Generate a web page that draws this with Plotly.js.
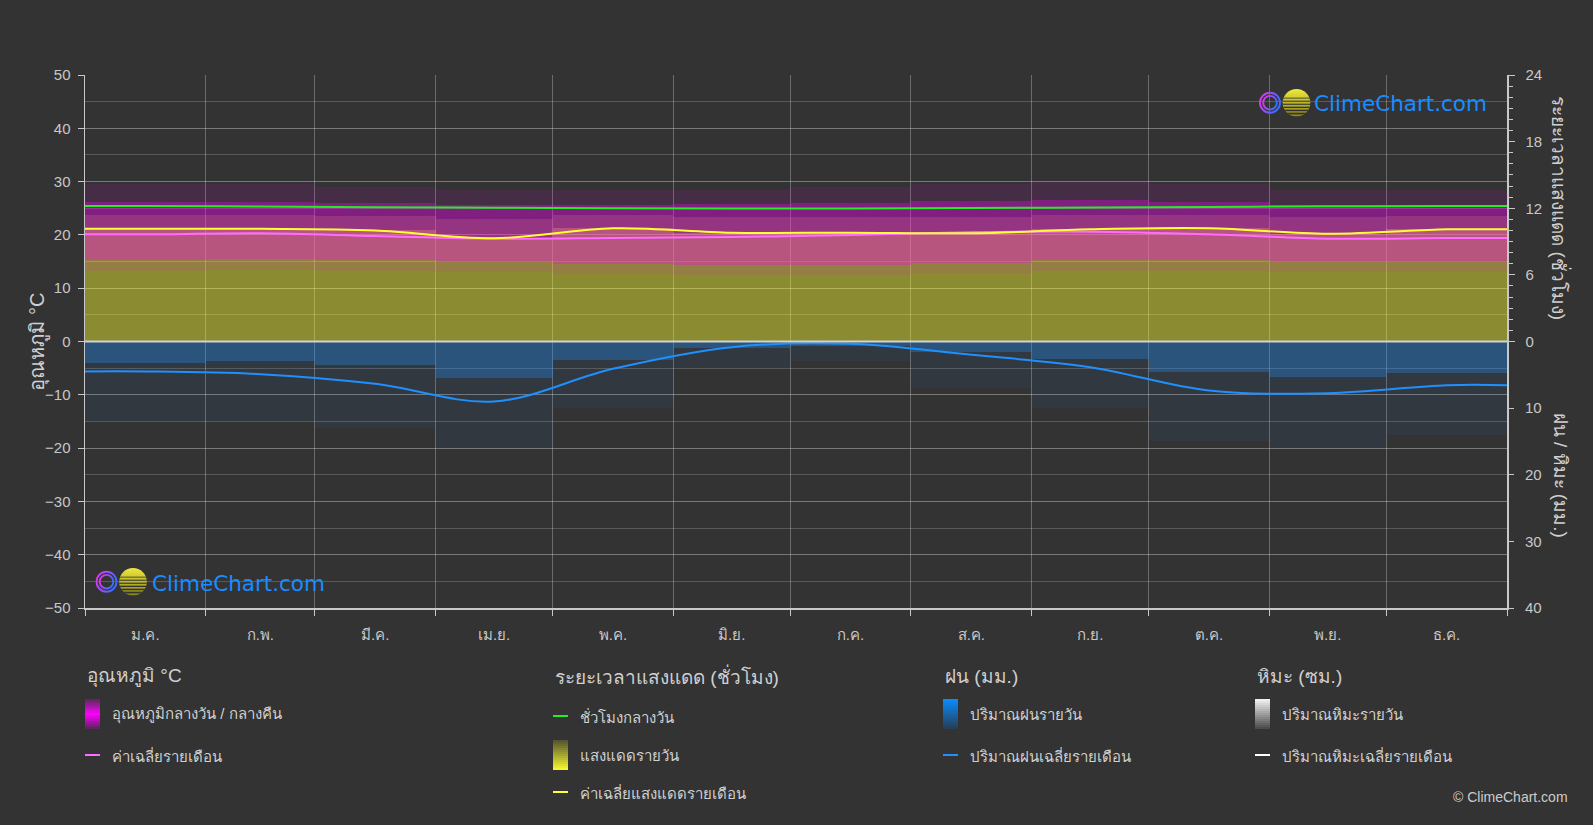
<!DOCTYPE html>
<html><head><meta charset="utf-8">
<script src="https://cdn.plot.ly/plotly-3.0.1.min.js"></script>
<style>html,body{margin:0;padding:0;background:#333333;}#chart{width:1593px;height:825px;}</style>
</head><body><div id="chart"></div>
<script>
// ---------------- data ----------------
const monthLabels = ["ม.ค.","ก.พ.","มี.ค.","เม.ย.","พ.ค.","มิ.ย.","ก.ค.","ส.ค.","ก.ย.","ต.ค.","พ.ย.","ธ.ค."];
const monthDays   = [31,28,31,30,31,30,31,31,30,31,30,31];

// temperature, °C
const tempMean    = [20.1,20.3,19.8,19.3,19.4,19.6,20.0,20.5,20.6,20.1,19.3,19.4];
const tempHigh    = [26.2,26.2,26.0,25.6,25.6,25.8,26.0,26.4,26.6,26.2,25.6,25.6];
const tempLow     = [15.2,15.4,15.2,15.0,14.6,14.4,14.4,14.8,15.2,15.2,15.0,15.0];
const tempHighExt = [29.5,29.5,29.0,28.5,28.5,28.5,29.0,29.5,30.0,29.5,28.5,28.5];
const tempLowExt  = [13.2,13.4,13.2,13.0,12.6,12.4,12.4,12.8,13.2,13.2,13.0,13.0];

// sunshine / daylight, hours
const daylightHours = [12.2,12.15,12.1,12.05,12.0,11.97,11.98,12.02,12.07,12.12,12.17,12.2];
const sunshineHours = [10.15,10.15,10.0,9.3,10.2,9.8,9.8,9.75,10.1,10.2,9.7,10.1];
const sunshineHigh  = [11.4,11.4,11.3,11.0,11.4,11.2,11.2,11.2,11.4,11.4,11.2,11.3];

// precipitation, mm
const precipMean    = [4.5,4.9,6.35,9.0,4.1,0.85,0.35,2.0,3.85,7.35,7.75,6.55];
const precipTypical = [3.2,3.0,3.6,5.5,2.8,1.0,0.6,1.6,2.6,4.6,5.4,4.8];
const precipHeavy   = [12,12,13,16,10,4,3,7,10,15,16,14];

// axis ticks
const tempTicks   = [-50,-40,-30,-20,-10,0,10,20,30,40,50];
const sunTicks    = [0,6,12,18,24];
const precipTicks = [10,20,30,40];

// ---------------- derived positions ----------------
const monthStarts = [0];
monthDays.forEach(d => monthStarts.push(monthStarts[monthStarts.length-1] + d));
const monthCenters = monthDays.map((d,i) => monthStarts[i] + d/2);
const yearEnd = monthStarts[12];
const lineX = [0, ...monthCenters, yearEnd];
const ext = arr => [arr[0], ...arr, arr[arr.length-1]];
const diff = (a,b) => a.map((v,i) => v - b[i]);
const sunMinor = [];
for (let h = 1; h < 24; h++) if (h % 6) sunMinor.push(h);

// ---------------- traces ----------------
// y: temperature axis (left), y2: sunshine (right), y3: precipitation (right)
// y4: temperature overlay (bars above sunshine), y5: temperature lines, y6: sunshine lines
const barBase = {type:'bar', x: monthCenters, width: monthDays, hoverinfo:'skip', showlegend:false};
const traces = [
  Object.assign({}, barBase, {y: sunshineHigh, base: 0, yaxis:'y2',
    marker:{color:'rgba(255,255,50,0.17)', line:{width:0}}}),
  Object.assign({}, barBase, {y: sunshineHours, base: 0, yaxis:'y2',
    marker:{color:'rgba(255,255,50,0.32)', line:{width:0}}}),
  Object.assign({}, barBase, {y: precipHeavy, base: 0, yaxis:'y3',
    marker:{color:'rgba(30,144,255,0.06)', line:{width:0}}}),
  Object.assign({}, barBase, {y: precipTypical, base: 0, yaxis:'y3',
    marker:{color:'rgba(30,144,255,0.32)', line:{width:0}}}),
  {type:'scatter', mode:'lines', x: lineX, y: ext(precipMean), yaxis:'y3', hoverinfo:'skip', showlegend:false,
    line:{color:'#1e90ff', width:2, shape:'spline', smoothing:1}},
  Object.assign({}, barBase, {y: diff(tempHighExt,tempLowExt), base: tempLowExt, yaxis:'y4',
    marker:{color:'rgba(255,0,255,0.09)', line:{width:0}}}),
  Object.assign({}, barBase, {y: diff(tempHigh,tempLow), base: tempLow, yaxis:'y4',
    marker:{color:'rgba(255,0,255,0.32)', line:{width:0}}}),
  {type:'scatter', mode:'lines', x: lineX, y: ext(tempMean), yaxis:'y5', hoverinfo:'skip', showlegend:false,
    line:{color:'#ff6cff', width:2, shape:'spline', smoothing:1}},
  {type:'scatter', mode:'lines', x: lineX, y: ext(daylightHours), yaxis:'y6', hoverinfo:'skip', showlegend:false,
    line:{color:'#22ee22', width:2, shape:'spline', smoothing:1}},
  {type:'scatter', mode:'lines', x: lineX, y: ext(sunshineHours), yaxis:'y6', hoverinfo:'skip', showlegend:false,
    line:{color:'#ffff33', width:2, shape:'spline', smoothing:1}}
];

// ---------------- layout helpers ----------------
const W = 1593, H = 825, ML = 85, MR = 86, MT = 75, MB = 217;
const PW = W - ML - MR, PH = H - MT - MB;
const px = x => (x - ML) / PW;
const py = y => (H - MB - y) / PH;
const FONT = '"Liberation Sans", Arial, sans-serif';
const txt = '#d0d0d0';

const shapes = [
  {type:'line', xref:'paper', x0:0, x1:1, yref:'y', y0:0, y1:0, layer:'above',
   line:{color:'#d2d2d2', width:2}}
];
const annotations = [];

function gradBox(x, yTop, w, h, colorAt) {
  const n = 15;
  for (let i = 0; i < n; i++) {
    const t = (i + 0.5) / n;
    shapes.push({type:'rect', xref:'paper', yref:'paper',
      x0: px(x), x1: px(x + w), y0: py(yTop + h*i/n), y1: py(yTop + h*(i+1)/n),
      fillcolor: colorAt(t), line:{width:0}});
  }
}
function legLine(x, y, color) {
  shapes.push({type:'line', xref:'paper', yref:'paper', x0: px(x), x1: px(x+15), y0: py(y), y1: py(y),
    line:{color: color, width:2}});
}
function label(x, y, text, size, anchor) {
  annotations.push({xref:'paper', yref:'paper', x: px(x), y: py(y), text: text, showarrow:false,
    xanchor: anchor || 'left', yanchor:'middle', font:{family: FONT, size: size || 15, color: txt}});
}
const mix = (a, b, t) => 'rgb(' + a.map((v,i) => Math.round(v + (b[i]-v)*t)).join(',') + ')';

// legend headers
label(85, 676, 'อุณหภูมิ °C', 19);
label(553, 676, 'ระยะเวลาแสงแดด (ชั่วโมง)', 19);
label(943, 676, 'ฝน (มม.)', 19);
label(1255, 676, 'หิมะ (ซม.)', 19);

// column 1
gradBox(85, 699, 15, 30, t => t < 0.5 ? mix([90,40,90],[255,0,255], t*2) : mix([255,0,255],[80,40,80], (t-0.5)*2));
label(110, 714, 'อุณหภูมิกลางวัน / กลางคืน', 15);
legLine(85, 755, '#ff6cff');
label(110, 755, 'ค่าเฉลี่ยรายเดือน', 15);
// column 2
legLine(553, 716, '#22ee22');
label(578, 716, 'ชั่วโมงกลางวัน', 15);
gradBox(553, 740, 15, 30, t => mix([80,80,50],[250,250,50], t));
label(578, 755, 'แสงแดดรายวัน', 15);
legLine(553, 792, '#ffff33');
label(578, 792, 'ค่าเฉลี่ยแสงแดดรายเดือน', 15);
// column 3
gradBox(943, 699, 15, 30, t => mix([10,140,255],[40,60,80], t));
label(968, 714, 'ปริมาณฝนรายวัน', 15);
legLine(943, 755, '#1e90ff');
label(968, 755, 'ปริมาณฝนเฉลี่ยรายเดือน', 15);
// column 4
gradBox(1255, 699, 15, 30, t => mix([245,245,245],[70,70,70], t));
label(1280, 714, 'ปริมาณหิมะรายวัน', 15);
legLine(1255, 755, '#ffffff');
label(1280, 755, 'ปริมาณหิมะเฉลี่ยรายเดือน', 15);

// axis titles
annotations.push({xref:'paper', yref:'paper', x: px(37), y: 0.5, text:'อุณหภูมิ °C', textangle:-90, showarrow:false,
  xanchor:'center', yanchor:'middle', font:{family:FONT, size:20, color:txt}});
annotations.push({xref:'paper', yref:'paper', x: px(1560), y: 0.75, text:'ระยะเวลาแสงแดด (ชั่วโมง)', textangle:90, showarrow:false,
  xanchor:'center', yanchor:'middle', font:{family:FONT, size:19, color:txt}});
annotations.push({xref:'paper', yref:'paper', x: px(1560), y: 0.25, text:'ฝน / หิมะ (มม.)', textangle:90, showarrow:false,
  xanchor:'center', yanchor:'middle', font:{family:FONT, size:19, color:txt}});

// copyright
annotations.push({xref:'paper', yref:'paper', x: px(1570), y: py(797), text:'© ClimeChart.com', showarrow:false,
  xanchor:'right', yanchor:'middle', font:{family:FONT, size:14, color:'#cccccc'}});

// logos
const logoSvg = "<svg xmlns='http://www.w3.org/2000/svg' width='52' height='28' viewBox='0 0 52 28'>" +
  "<defs><linearGradient id='r' x1='0' y1='0' x2='1' y2='0.4'><stop offset='0' stop-color='#f030f0'/><stop offset='1' stop-color='#3a6cff'/></linearGradient>" +
  "<linearGradient id='s' x1='0' y1='0' x2='0' y2='1'><stop offset='0' stop-color='#f0ea40'/><stop offset='1' stop-color='#8a8412'/></linearGradient>" +
  "<clipPath id='c'><circle cx='37.5' cy='14' r='13.8'/></clipPath></defs>" +
  "<circle cx='11' cy='14' r='10' fill='none' stroke='url(#r)' stroke-width='1.9'/>" +
  "<circle cx='11' cy='14' r='6.8' fill='none' stroke='url(#r)' stroke-width='1.9'/>" +
  "<g clip-path='url(#c)'><rect x='23' y='0' width='30' height='28' fill='url(#s)'/>" +
  "<g fill='#333333'><rect x='23' y='9' width='30' height='0.8'/><rect x='23' y='12' width='30' height='1'/><rect x='23' y='15' width='30' height='1.1'/>" +
  "<rect x='23' y='18' width='30' height='1.3'/><rect x='23' y='21' width='30' height='1.5'/><rect x='23' y='24' width='30' height='1.7'/></g></g></svg>";
const logoSrc = 'data:image/svg+xml;charset=utf-8,' + encodeURIComponent(logoSvg);
const images = [
  {source: logoSrc, xref:'paper', yref:'paper', x: px(1259), y: py(88.7), sizex: 52/PW, sizey: 28/PH,
   xanchor:'left', yanchor:'top', sizing:'stretch', layer:'above'},
  {source: logoSrc, xref:'paper', yref:'paper', x: px(95.5), y: py(567.7), sizex: 52/PW, sizey: 28/PH,
   xanchor:'left', yanchor:'top', sizing:'stretch', layer:'above'}
];
const logoFont = {family:'"DejaVu Sans", sans-serif', size:21.5, color:'#1a8cff'};
annotations.push({xref:'paper', yref:'paper', x: px(1312), y: py(104), text:'ClimeChart.com', showarrow:false,
  xanchor:'left', yanchor:'middle', font: logoFont});
annotations.push({xref:'paper', yref:'paper', x: px(150), y: py(583), text:'ClimeChart.com', showarrow:false,
  xanchor:'left', yanchor:'middle', font: logoFont});

// ---------------- layout ----------------
const tickFont = {family: FONT, size: 15, color: '#c8c8c8'};
const gridC = 'rgba(255,255,255,0.19)';
const hidden = {overlaying:'y', visible:false, fixedrange:true};
const layout = {
  width: W, height: H,
  margin: {l: ML, r: MR, t: MT, b: MB, pad: 0},
  paper_bgcolor: '#333333', plot_bgcolor: '#333333',
  barmode: 'overlay', bargap: 0,
  showlegend: false,
  font: {family: FONT, color: txt},
  xaxis: {range: [0, yearEnd], tickmode:'array', tickvals: monthCenters, ticktext: monthLabels,
    ticks:'', showgrid:false, zeroline:false, showline:true, linecolor:'#c8c8c8', linewidth:2,
    tickfont: tickFont, ticklabelstandoff: 12, fixedrange:true,
    minor: {tickmode:'array', tickvals: monthStarts, showgrid:true, gridcolor:'rgba(255,255,255,0.28)', gridwidth:1,
      ticks:'outside', ticklen:6, tickcolor:'#c8c8c8', tickwidth:1}},
  yaxis: {range: [-50, 50], tickmode:'array', tickvals: tempTicks, showgrid:true, gridcolor: gridC, gridwidth:1,
    zeroline:false, showline:true, linecolor:'#c8c8c8', linewidth:1.5, ticks:'outside', ticklen:6, tickcolor:'#c8c8c8',
    tickfont: tickFont, ticklabelstandoff: 4, fixedrange:true,
    minor: {dtick:5, tick0:0, showgrid:true, gridcolor: gridC, gridwidth:1, ticks:''}},
  yaxis2: {overlaying:'y', side:'right', range:[-24, 24], tickmode:'array', tickvals: sunTicks,
    showgrid:false, zeroline:false, showline:true, linecolor:'#c8c8c8', linewidth:1.5,
    ticks:'outside', ticklen:6, tickcolor:'#c8c8c8', tickfont: tickFont, ticklabelstandoff: 8, fixedrange:true,
    minor: {tickmode:'array', tickvals: sunMinor, ticks:'outside', ticklen:4, tickcolor:'#c8c8c8', showgrid:false}},
  yaxis3: {overlaying:'y', side:'right', range:[40, -40], tickmode:'array', tickvals: precipTicks,
    showgrid:false, zeroline:false, showline:false, ticks:'outside', ticklen:6, tickcolor:'#c8c8c8',
    tickfont: tickFont, ticklabelstandoff: 8, fixedrange:true},
  yaxis4: Object.assign({range:[-50, 50]}, hidden),
  yaxis5: Object.assign({range:[-50, 50]}, hidden),
  yaxis6: Object.assign({range:[-24, 24]}, hidden),
  shapes: shapes, annotations: annotations, images: images
};

Plotly.newPlot('chart', traces, layout, {staticPlot:true, displayModeBar:false});
</script></body></html>
